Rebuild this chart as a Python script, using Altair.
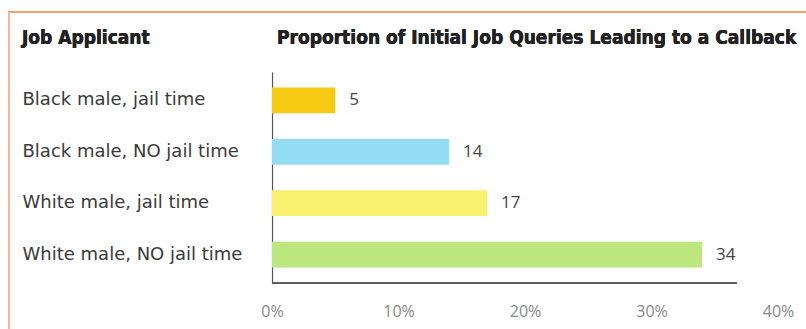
import altair as alt
import pandas as pd

applicants = ["Black male, jail time", "Black male, NO jail time",
              "White male, jail time", "White male, NO jail time"]
callback_pct = [5, 14, 17, 34]
bar_colors = ["#F6CA12", "#94DCF3", "#F8F170", "#BCE67E"]
x_ticks = [0, 10, 20, 30, 40]
title_text = "Proportion of Initial Job Queries Leading to a Callback"
ytitle_text = "Job Applicant"

df = pd.DataFrame({"applicant": applicants, "pct": callback_pct, "color": bar_colors})

W, H = 506, 211
LEFT, TOP = 272, 72
HEAD_FONT = "DejaVu Sans Condensed"

y_enc = alt.Y("applicant:N", sort=applicants,
              scale=alt.Scale(paddingInner=0.5, paddingOuter=0.3),
              axis=alt.Axis(title=None, labelLimit=0,
                            labelAlign="left", labelPadding=250, ticks=False,
                            labelFont="DejaVu Sans", labelFontSize=18, labelColor="#3a3a3a",
                            domainColor="#555", domainWidth=1.2))

x_enc = alt.X("pct:Q", scale=alt.Scale(domain=[0, 40], nice=False),
              axis=alt.Axis(title=None, values=x_ticks, labelExpr="datum.value + '%'",
                            grid=False, ticks=False, domain=False, labelPadding=20,
                            labelFlush=False,
                            labelFont="Open Sans", labelFontSize=16, labelColor="#888"))

bars = alt.Chart(df).mark_bar().encode(
    x=x_enc, y=y_enc,
    color=alt.Color("color:N", scale=None),
)

labels = alt.Chart(df).mark_text(align="left", dx=14, font="Open Sans", fontSize=17,
                                 color="#444").encode(
    x="pct:Q", y=alt.Y("applicant:N", sort=applicants), text="pct:Q")

xline = alt.Chart(df).mark_rule(color="#555", strokeWidth=1.2).encode(
    x=alt.value(0), x2=alt.value(465), y=alt.value(H))

title_mark = alt.Chart(df).mark_text(align="left", baseline="alphabetic", font=HEAD_FONT,
                                     fontSize=19, fontWeight="bold", color="#222").encode(
    x=alt.value(5), y=alt.value(44 - TOP), text=alt.value(title_text))
ytitle_mark = alt.Chart(df).mark_text(align="left", baseline="alphabetic", font=HEAD_FONT,
                                      fontSize=19, fontWeight="bold", color="#222").encode(
    x=alt.value(22 - LEFT), y=alt.value(44 - TOP), text=alt.value(ytitle_text))

top_border = alt.Chart(df).mark_rule(color="#F2A06A", strokeWidth=2).encode(
    x=alt.value(8 - LEFT), x2=alt.value(806 - LEFT), y=alt.value(12 - TOP))
left_border = alt.Chart(df).mark_rule(color="#EDB8A0", strokeWidth=2).encode(
    x=alt.value(9 - LEFT), y=alt.value(12 - TOP), y2=alt.value(329 - TOP))

chart = alt.layer(bars, labels, xline, title_mark, ytitle_mark, top_border, left_border).properties(
    width=W, height=H,
    background="white",
    autosize=alt.AutoSizeParams(type="none"),
    padding={"left": LEFT, "top": TOP, "right": 806 - LEFT - W, "bottom": 329 - TOP - H},
).configure_view(strokeWidth=0, stroke="transparent")

chart.save("out.html", embed_options={"renderer": "svg", "actions": False})
